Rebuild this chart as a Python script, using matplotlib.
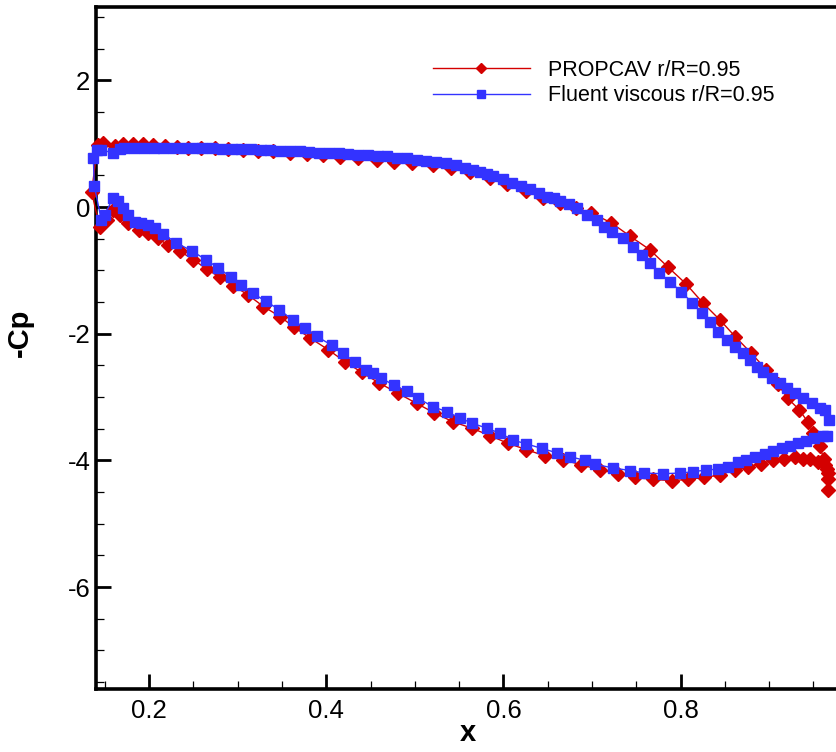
import matplotlib
matplotlib.use("Agg")
import matplotlib.pyplot as plt
from matplotlib.lines import Line2D
from matplotlib.ticker import MultipleLocator

plt.rcParams['font.family'] = ['Liberation Sans', 'DejaVu Sans']

# ---- PROPCAV r/R=0.95 (red), upper surface from TE to LE, then lower surface LE to TE
prop_upper_x = [0.967, 0.966, 0.965, 0.962, 0.957, 0.950, 0.944, 0.934, 0.921, 0.910,
                0.897, 0.880, 0.862, 0.845, 0.825, 0.806, 0.786, 0.765, 0.743, 0.722,
                0.699, 0.682, 0.664, 0.645, 0.625, 0.604, 0.585, 0.562, 0.541, 0.520,
                0.497, 0.477, 0.457, 0.436, 0.415, 0.396, 0.378, 0.359, 0.340, 0.323,
                0.306, 0.289, 0.274, 0.259, 0.244, 0.231, 0.218, 0.204, 0.193, 0.182,
                0.171, 0.161, 0.148, 0.142]
prop_upper_y = [-4.46, -4.30, -4.14, -3.98, -3.78, -3.57, -3.40, -3.20, -3.02, -2.80,
                -2.57, -2.31, -2.05, -1.79, -1.51, -1.21, -0.95, -0.67, -0.46, -0.25,
                -0.09, -0.02, 0.06, 0.15, 0.26, 0.37, 0.46, 0.56, 0.62, 0.66,
                0.69, 0.72, 0.74, 0.77, 0.79, 0.82, 0.84, 0.86, 0.88, 0.89,
                0.90, 0.92, 0.93, 0.94, 0.94, 0.95, 0.96, 0.98, 1.00, 1.00,
                1.00, 0.97, 1.02, 0.98]
prop_lower_x = [0.135, 0.144, 0.152, 0.159, 0.167, 0.176, 0.188, 0.199, 0.210, 0.221,
                0.235, 0.250, 0.265, 0.280, 0.295, 0.312, 0.329, 0.348, 0.364, 0.382,
                0.402, 0.421, 0.440, 0.460, 0.481, 0.502, 0.522, 0.543, 0.564, 0.585,
                0.605, 0.626, 0.647, 0.667, 0.688, 0.709, 0.729, 0.748, 0.769, 0.790,
                0.808, 0.827, 0.844, 0.861, 0.876, 0.891, 0.904, 0.917, 0.929, 0.938,
                0.946, 0.955, 0.963, 0.966]
prop_lower_y = [0.24, -0.31, -0.20, -0.05, -0.12, -0.25, -0.36, -0.41, -0.49, -0.60,
                -0.70, -0.83, -0.98, -1.11, -1.24, -1.39, -1.57, -1.73, -1.90, -2.07,
                -2.25, -2.44, -2.61, -2.78, -2.94, -3.10, -3.25, -3.39, -3.49, -3.61,
                -3.73, -3.83, -3.93, -3.99, -4.07, -4.15, -4.21, -4.27, -4.30, -4.32,
                -4.30, -4.27, -4.23, -4.15, -4.10, -4.05, -4.00, -3.97, -3.95, -3.97,
                -3.97, -4.02, -4.07, -4.20]

# ---- Fluent viscous r/R=0.95 (blue)
flu_upper_x = [0.968, 0.963, 0.957, 0.948, 0.938, 0.929, 0.920, 0.912, 0.903, 0.893,
               0.886, 0.878, 0.870, 0.861, 0.852, 0.842, 0.833, 0.824, 0.813, 0.801,
               0.788, 0.776, 0.765, 0.756, 0.746, 0.735, 0.723, 0.714, 0.706, 0.694,
               0.683, 0.674, 0.664, 0.657, 0.649, 0.640, 0.630, 0.620, 0.610, 0.599,
               0.588, 0.581, 0.573, 0.566, 0.557, 0.546, 0.535, 0.524, 0.513, 0.502,
               0.491, 0.480, 0.469, 0.458, 0.447, 0.436, 0.425, 0.414, 0.403, 0.392,
               0.381, 0.370, 0.359, 0.348, 0.337, 0.326, 0.315, 0.304, 0.293, 0.282,
               0.271, 0.260, 0.249, 0.238, 0.227, 0.216, 0.205, 0.194, 0.183, 0.172,
               0.167, 0.159, 0.146, 0.141, 0.137]
flu_upper_y = [-3.36, -3.20, -3.17, -3.09, -3.01, -2.93, -2.85, -2.77, -2.70, -2.60,
               -2.52, -2.41, -2.30, -2.21, -2.10, -1.97, -1.81, -1.67, -1.51, -1.34,
               -1.18, -1.04, -0.88, -0.75, -0.63, -0.49, -0.39, -0.31, -0.20, -0.12,
               -0.02, 0.05, 0.10, 0.14, 0.16, 0.22, 0.29, 0.34, 0.38, 0.44,
               0.49, 0.52, 0.56, 0.59, 0.62, 0.66, 0.69, 0.71, 0.73, 0.75,
               0.77, 0.78, 0.80, 0.81, 0.82, 0.83, 0.84, 0.85, 0.86, 0.86,
               0.87, 0.88, 0.88, 0.89, 0.90, 0.90, 0.91, 0.91, 0.92, 0.92,
               0.93, 0.93, 0.93, 0.93, 0.94, 0.94, 0.94, 0.94, 0.94, 0.93,
               0.92, 0.86, 0.90, 0.90, 0.78]
flu_lower_x = [0.138, 0.146, 0.150, 0.159, 0.165, 0.171, 0.176, 0.184, 0.191, 0.199,
               0.207, 0.216, 0.230, 0.248, 0.264, 0.278, 0.292, 0.304, 0.317, 0.332,
               0.347, 0.362, 0.376, 0.389, 0.406, 0.419, 0.432, 0.445, 0.453, 0.462,
               0.476, 0.491, 0.504, 0.520, 0.536, 0.551, 0.564, 0.581, 0.596, 0.611,
               0.626, 0.643, 0.660, 0.675, 0.692, 0.703, 0.724, 0.743, 0.759, 0.780,
               0.799, 0.814, 0.829, 0.842, 0.853, 0.865, 0.874, 0.884, 0.895, 0.904,
               0.914, 0.923, 0.933, 0.942, 0.951, 0.961, 0.965]
flu_lower_y = [0.34, -0.20, -0.12, 0.14, 0.09, -0.02, -0.12, -0.23, -0.25, -0.28,
               -0.33, -0.42, -0.56, -0.69, -0.83, -0.96, -1.10, -1.23, -1.36, -1.49,
               -1.62, -1.78, -1.91, -2.04, -2.18, -2.31, -2.44, -2.57, -2.62, -2.70,
               -2.81, -2.91, -3.02, -3.15, -3.23, -3.33, -3.41, -3.49, -3.57, -3.68,
               -3.74, -3.81, -3.88, -3.94, -4.00, -4.06, -4.12, -4.16, -4.20, -4.21,
               -4.20, -4.18, -4.15, -4.14, -4.10, -4.03, -3.99, -3.95, -3.90, -3.85,
               -3.81, -3.77, -3.73, -3.69, -3.65, -3.62, -3.62]

labels = ['PROPCAV r/R=0.95', 'Fluent viscous r/R=0.95']
x_ticks = [0.2, 0.4, 0.6, 0.8]
y_ticks = [-6, -4, -2, 0, 2]

RED = '#d40000'
BLUE = '#3333ff'

fig = plt.figure(figsize=(8.36, 7.52), dpi=100)
ax = fig.add_axes([96 / 836, 63 / 752, 744 / 836, 682 / 752])

fx = flu_upper_x + flu_lower_x
fy = flu_upper_y + flu_lower_y
px = prop_upper_x + prop_lower_x
py = prop_upper_y + prop_lower_y

ax.plot(px, py, color=RED, lw=1.0, marker='D', ms=7.2, mec=RED, mfc=RED,
        clip_on=False, zorder=3)
ax.plot(fx, fy, color=BLUE, lw=1.0, marker='s', ms=7.0, mec=BLUE, mfc=BLUE,
        clip_on=False, zorder=4)

ax.set_xlim(0.14, 0.98)
ax.set_ylim(-7.61, 3.16)
ax.set_xticks(x_ticks)
ax.set_yticks(y_ticks)
ax.set_xticklabels([f'{v:.1f}' for v in x_ticks])
ax.set_yticklabels([str(v) for v in y_ticks])
ax.xaxis.set_minor_locator(MultipleLocator(0.05))
ax.yaxis.set_minor_locator(MultipleLocator(0.5))

ax.tick_params(which='major', direction='in', length=10.5, width=2.0,
               labelsize=18.5, pad=4, top=False, right=False)
ax.tick_params(which='minor', direction='in', length=6, width=0.9,
               top=False, right=False)
ax.tick_params(axis='x', which='major', pad=7)
for s in ['left', 'bottom', 'top']:
    ax.spines[s].set_linewidth(2.6)
ax.spines['right'].set_visible(False)

ax.set_xlabel('x', fontsize=21, fontweight='bold')
ax.set_ylabel('-Cp', fontsize=21, fontweight='bold')
ax.xaxis.set_label_coords(0.5, -0.0445)
ax.yaxis.set_label_coords(-0.084, 0.522)

handles = [Line2D([], [], color=RED, lw=1.0, marker='D', ms=5.5),
           Line2D([], [], color=BLUE, lw=1.0, marker='s', ms=5.5)]
fig.legend(handles, labels, loc='upper left', bbox_to_anchor=(433 / 836, 1 - 60 / 752),
           frameon=False, fontsize=15.5, handlelength=4.5, handletextpad=0.85,
           labelspacing=0.2, borderpad=0, borderaxespad=0, numpoints=1)

fig.savefig('out.png', dpi=100)
